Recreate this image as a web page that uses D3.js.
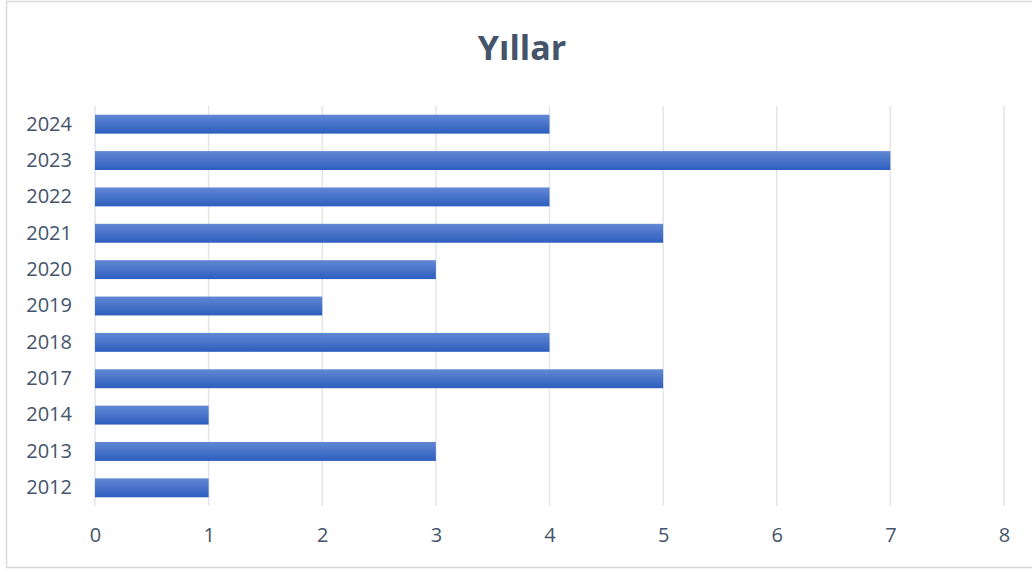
<!DOCTYPE html>
<html><head><meta charset="utf-8">
<script src="https://cdn.jsdelivr.net/npm/d3@7"></script>
<style>body{margin:0;background:#fff}svg{display:block}</style>
</head><body>
<svg id="c" width="1032" height="572"></svg>
<script>
const categories = ["2012","2013","2014","2017","2018","2019","2020","2021","2022","2023","2024"];
const values = [1,3,1,5,4,2,3,5,4,7,4];
const xTicks = [0,1,2,3,4,5,6,7,8];
const title = "Yıllar";

(function(){
const svg = d3.select("#c");
const font = "'Open Sans','Noto Sans',sans-serif";
const textColor = "#44546A";

svg.append("rect").attr("x",6.5).attr("y",1.5).attr("width",1040).attr("height",566)
  .attr("fill","#fff").attr("stroke","#D9D9D9").attr("stroke-width",1.5);

const defs = svg.append("defs");
const g = defs.append("linearGradient").attr("id","bg").attr("x1",0).attr("y1",0).attr("x2",0).attr("y2",1);
g.append("stop").attr("offset","0%").attr("stop-color","#6288d4");
g.append("stop").attr("offset","100%").attr("stop-color","#2d5ebe");

const pLeft = 95, pRight = 1004, pTop = 106, pBottom = 506;
const x = d3.scaleLinear().domain([0,8]).range([pLeft,pRight]);
const y = d3.scaleBand().domain(categories.slice().reverse()).range([pTop,pBottom]).paddingInner(0.48).paddingOuter(0.24);

svg.append("g").selectAll("line").data(xTicks).join("line")
  .attr("x1",d=>x(d)).attr("x2",d=>x(d)).attr("y1",pTop).attr("y2",pBottom)
  .attr("stroke","#E3E5EA").attr("stroke-width",1.5);

svg.append("g").selectAll("rect").data(categories).join("rect")
  .attr("x",x(0)).attr("y",d=>y(d))
  .attr("width",(d,i)=>x(values[i])-x(0)).attr("height",y.bandwidth())
  .attr("fill","url(#bg)");

const xa = svg.append("g").attr("transform",`translate(0,${pBottom})`)
  .call(d3.axisBottom(x).tickValues(xTicks).tickSize(0).tickPadding(22).tickFormat(d3.format("d")));
xa.select(".domain").remove();
xa.selectAll("text").attr("fill",textColor).style("font-size","20px").style("font-family",font);

const ya = svg.append("g").attr("transform",`translate(${pLeft},0)`)
  .call(d3.axisLeft(y).tickSize(0).tickPadding(23));
ya.select(".domain").remove();
ya.selectAll("text").attr("fill",textColor).style("font-size","20px").style("font-family",font);

svg.append("text").attr("x",522).attr("y",60).attr("text-anchor","middle")
  .attr("fill",textColor).style("font-size","34px").style("font-weight","bold").style("font-family",font)
  .text(title);
})();
</script>
</body></html>
